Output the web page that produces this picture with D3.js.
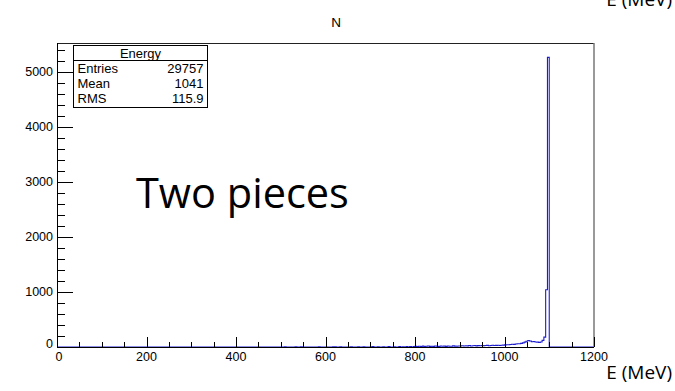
<!DOCTYPE html>
<html>
<head>
<meta charset="utf-8">
<script src="https://cdn.jsdelivr.net/npm/d3@7"></script>
<style>
	html, body { margin: 0; padding: 0; background: #fff; }
	svg { display: block; }
	.tick-label { font-family: "Liberation Sans", Arial, sans-serif; font-size: 12.5px; fill: #000; }
	.stat { font-family: "Liberation Sans", Arial, sans-serif; font-size: 13px; fill: #000; }
	.big { font-family: "Open Sans", "Lato", sans-serif; fill: #000; }
</style>
</head>
<body>
<svg width="675" height="391"></svg>
<script>
// histogram "Energy", 4 MeV bins (lower edge, count)
const scatterE = [508, 532, 544, 584, 616, 620, 632, 656, 672, 684, 704, 716, 728, 740, 752, 764, 772, 780, 788, 796];
const scatterN = [3, 4, 3, 5, 4, 3, 5, 4, 5, 4, 6, 5, 4, 6, 5, 7, 5, 8, 6, 9];

const contStart = 800;
const contN = [
	12, 8, 14, 10, 16, 9, 13, 18, 11, 15, 12, 17, 14, 10, 19, 13, 16, 12, 18, 15, 14, 20, 16, 13, 19,
	18, 22, 17, 24, 20, 26, 19, 23, 27, 21, 25, 22, 28, 24, 26, 30, 23, 27, 31, 26, 29, 33, 28, 32, 35,
	38, 42, 40, 46, 50, 48, 55, 60, 58, 66, 75, 88, 105, 118, 110, 95, 100, 90, 88, 84, 92, 120, 180, 1040, 5265
];

const xTickVals = [0, 200, 400, 600, 800, 1000, 1200];
const yTickVals = [0, 1000, 2000, 3000, 4000, 5000];

const statTitle = "Energy";
const statRows = [["Entries", "29757"], ["Mean", "1041"], ["RMS", "115.9"]];

const binW = 4;
const nBins = 1200 / binW;

const counts = new Array(nBins).fill(0);
scatterE.forEach((e, k) => counts[e / binW] = scatterN[k]);
contN.forEach((n, k) => counts[contStart / binW + k] = n);

const svg = d3.select("svg");
const frame = { left: 57, right: 594, top: 43, bottom: 347 };

const x = d3.scaleLinear().domain([0, 1200]).range([frame.left, frame.right]);
const y = d3.scaleLinear().domain([0, 5527]).range([frame.bottom, frame.top]);

// histogram as steps
const pts = counts.map((c, i) => [i * binW, c]);
pts.push([1200, counts[nBins - 1]]);

const line = d3.line()
	.curve(d3.curveStepAfter)
	.x(d => x(d[0]))
	.y(d => y(d[1]));

svg.append("path")
	.datum(pts)
	.attr("fill", "none")
	.attr("stroke", "#1c1cd0")
	.attr("stroke-width", 1.1)
	.attr("d", line);

// frame
svg.append("line")
	.attr("x1", frame.left).attr("x2", frame.right)
	.attr("y1", frame.top + 0.5).attr("y2", frame.top + 0.5)
	.attr("stroke", "#222");
svg.append("line")
	.attr("x1", frame.right).attr("x2", frame.right)
	.attr("y1", frame.top).attr("y2", frame.bottom)
	.attr("stroke", "#777").attr("stroke-width", 1.5);

// x axis, ticks pointing up
const gX = svg.append("g");
gX.append("line")
	.attr("x1", frame.left).attr("x2", frame.right)
	.attr("y1", frame.bottom + 0.5).attr("y2", frame.bottom + 0.5)
	.attr("stroke", "#000");
gX.selectAll(".xt")
	.data(d3.range(0, 1201, 50))
	.join("line")
	.attr("x1", d => Math.round(x(d)) + 0.5).attr("x2", d => Math.round(x(d)) + 0.5)
	.attr("y1", frame.bottom)
	.attr("y2", d => frame.bottom - (d % 200 === 0 ? 10 : 5))
	.attr("stroke", "#000");
gX.selectAll(".xl")
	.data(xTickVals)
	.join("text")
	.attr("class", "tick-label")
	.attr("x", d => x(d) + (d === 0 ? 2 : 0))
	.attr("y", frame.bottom + 14)
	.attr("text-anchor", "middle")
	.text(d => d);

// y axis, ticks pointing right
const gY = svg.append("g");
gY.append("line")
	.attr("x1", frame.left + 0.5).attr("x2", frame.left + 0.5)
	.attr("y1", frame.top).attr("y2", frame.bottom)
	.attr("stroke", "#000");
gY.selectAll(".yt")
	.data(d3.range(0, 5527, 200))
	.join("line")
	.attr("x1", frame.left)
	.attr("x2", d => frame.left + (d % 1000 === 0 ? 16 : 8))
	.attr("y1", d => Math.round(y(d)) + 0.5).attr("y2", d => Math.round(y(d)) + 0.5)
	.attr("stroke", "#000");
gY.selectAll(".yl")
	.data(yTickVals)
	.join("text")
	.attr("class", "tick-label")
	.attr("x", frame.left - 4)
	.attr("y", d => y(d) + (d === 0 ? 1 : 4.5))
	.attr("text-anchor", "end")
	.text(d => d);

// stat box
const box = { x: 73.5, y: 45.5, w: 134, h: 62 };
const gS = svg.append("g");
gS.append("rect")
	.attr("x", box.x).attr("y", box.y)
	.attr("width", box.w).attr("height", box.h)
	.attr("fill", "#fff").attr("stroke", "#000");
gS.append("line")
	.attr("x1", box.x).attr("x2", box.x + box.w)
	.attr("y1", 60.5).attr("y2", 60.5)
	.attr("stroke", "#000");
gS.append("text")
	.attr("class", "stat")
	.attr("x", box.x + box.w / 2).attr("y", 57.5)
	.attr("text-anchor", "middle")
	.text(statTitle);
statRows.forEach(([k, v], i) => {
	gS.append("text").attr("class", "stat")
		.attr("x", box.x + 4).attr("y", 73 + i * 15).text(k);
	gS.append("text").attr("class", "stat")
		.attr("x", box.x + box.w - 4).attr("y", 73 + i * 15)
		.attr("text-anchor", "end").text(v);
});

// titles
svg.append("text")
	.attr("class", "tick-label")
	.style("font-size", "13.5px")
	.attr("x", 336).attr("y", 27)
	.attr("text-anchor", "middle")
	.text("N");

svg.append("text")
	.attr("class", "big")
	.style("font-size", "19px")
	.attr("x", 672).attr("y", 6)
	.attr("text-anchor", "end")
	.text("E (MeV)");

svg.append("text")
	.attr("class", "big")
	.style("font-size", "19px")
	.attr("x", 672).attr("y", 379)
	.attr("text-anchor", "end")
	.text("E (MeV)");

svg.append("text")
	.attr("class", "big")
	.style("font-size", "41.5px")
	.attr("x", 136).attr("y", 208)
	.text("Two pieces");
</script>
</body>
</html>
